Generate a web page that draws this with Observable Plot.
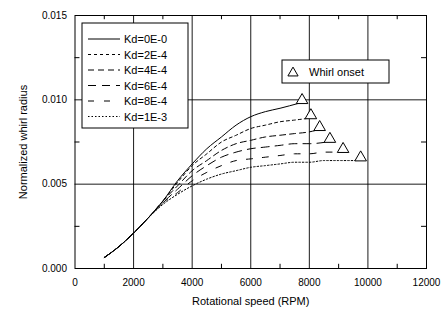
<!DOCTYPE html>
<html><head><meta charset="utf-8">
<script src="https://cdn.jsdelivr.net/npm/d3@7"></script>
<script src="https://cdn.jsdelivr.net/npm/@observablehq/plot@0.6"></script>
<style>body{margin:0;background:#fff;font-family:"Liberation Sans",Arial,sans-serif}</style>
</head><body><div id="chart"></div>
<script>
const seriesNames = ["Kd=0E-0","Kd=2E-4","Kd=4E-4","Kd=6E-4","Kd=8E-4","Kd=1E-3"];
const dashes = ["none","3,3","6,4","8,6","6,10","1.5,2"];
const rpm0 = [1000,1500,2000,2500,3000,3500,4000,4500,5000,5500,6000,6500,7000,7650];
const r0   = [0.00065,0.0013,0.0021,0.0030,0.0040,0.0052,0.0062,0.0071,0.0078,0.0085,0.0090,0.0093,0.0095,0.0098];
const rpm1 = [1000,1500,2000,2500,3000,3500,4000,4500,5000,5500,6000,6500,7000,7500,7950];
const r1   = [0.00065,0.0013,0.0021,0.0030,0.0040,0.0051,0.0061,0.0068,0.0075,0.0079,0.0083,0.0085,0.0087,0.0088,0.0089];
const rpm2 = [1000,1500,2000,2500,3000,3500,4000,4500,5000,5500,6000,6500,7000,7500,8000,8250];
const r2   = [0.00065,0.0013,0.0021,0.0030,0.0040,0.0049,0.0058,0.0064,0.0070,0.0074,0.0076,0.0078,0.0079,0.0080,0.0081,0.0082];
const rpm3 = [1000,1500,2000,2500,3000,3500,4000,4500,5000,5500,6000,6500,7000,7500,8000,8600];
const r3   = [0.00065,0.0013,0.0021,0.0030,0.0039,0.0047,0.0055,0.0061,0.0066,0.0069,0.0071,0.0072,0.0073,0.0074,0.0074,0.0075];
const rpm4 = [1000,1500,2000,2500,3000,3500,4000,4500,5000,5500,6000,6500,7000,7500,8000,8500,9050];
const r4   = [0.00065,0.0013,0.0021,0.0030,0.0039,0.0045,0.0052,0.0057,0.0061,0.0064,0.0065,0.0066,0.0067,0.0068,0.0068,0.0069,0.0069];
const rpm5 = [1000,1500,2000,2500,3000,3500,4000,4500,5000,5500,6000,6500,7000,7500,8000,8500,9000,9650];
const r5   = [0.00065,0.0013,0.0021,0.0030,0.0038,0.0044,0.0049,0.0053,0.0056,0.0058,0.0060,0.0061,0.0062,0.0063,0.0063,0.0064,0.0064,0.0064];
const onsetRpm = [7650,7950,8250,8600,9050,9650];
const onsetR   = [0.0098,0.0089,0.0082,0.0075,0.0069,0.0064];
const xTicks = [0,2000,4000,6000,8000,10000,12000];
const yTicks = [0,0.005,0.010,0.015];
const xGrid = [2000,4000,6000,8000,10000];
const yGrid = [0.005,0.010];
const xMinor = [1000,3000,5000,7000,9000,11000];
const yMinor = [0.0025,0.0075,0.0125];

const allX = [rpm0,rpm1,rpm2,rpm3,rpm4,rpm5];
const allY = [r0,r1,r2,r3,r4,r5];
const lineData = [];
allX.forEach((xs,i)=>xs.forEach((x,j)=>lineData.push({s:seriesNames[i], x, y: allY[i][j], k:i})));
const onset = onsetRpm.map((x,i)=>({x, y: onsetR[i]}));

const lineMarks = seriesNames.map((name,i)=>Plot.line(lineData.filter(d=>d.k===i), {x:"x", y:"y", curve:"monotone-x", stroke:"black", strokeWidth:1, strokeDasharray: dashes[i]}));

const plot = Plot.plot({
  width: 445, height: 312,
  marginLeft: 74.5, marginRight: 19, marginTop: 15, marginBottom: 44,
  style: {fontFamily: '"Liberation Sans", Arial, sans-serif', background: "white"},
  x: {domain: [0,12000]},
  y: {domain: [0,0.015]},
  marks: [
    Plot.ruleX(xGrid, {stroke:"black", strokeWidth:0.9}),
    Plot.ruleY(yGrid, {stroke:"black", strokeWidth:0.9}),
    Plot.ruleX(xMinor, {y1: 0, y2: 0.00025, stroke:"black"}),
    Plot.ruleX(xMinor, {y1: 0.01475, y2: 0.015, stroke:"black"}),
    Plot.ruleY(yMinor, {x1: 0, x2: 170, stroke:"black"}),
    Plot.ruleY(yMinor, {x1: 11830, x2: 12000, stroke:"black"}),
    ...lineMarks,
    Plot.dot(onset, {x:"x", y:"y", symbol:"triangle", r:4.3, stroke:"black", fill:"white", strokeWidth:1, dx:3, dy:-3}),
    Plot.frame({stroke:"black", strokeWidth:1}),
    Plot.axisX({ticks: xTicks, tickSize: 0, tickPadding: 10, fontSize: 10, tickFormat: d3.format("d"), label: "Rotational speed (RPM)", labelAnchor: "center", labelOffset: 36}),
    Plot.axisY({ticks: yTicks, tickSize: 0, tickPadding: 8, fontSize: 10, tickFormat: d3.format(".3f"), label: "Normalized whirl radius", labelAnchor: "center", labelArrow: "none", labelOffset: 56})
  ]
});
document.getElementById("chart").appendChild(plot);

d3.select(plot).selectAll("text").each(function(){
  const t = this.textContent;
  if (t.startsWith("Rotational")) { this.textContent = "Rotational speed (RPM)"; d3.select(this).attr("font-size",11); }
  if (t.includes("Normalized")) { this.textContent = "Normalized whirl radius"; d3.select(this).attr("font-size",11); }
});

const svg = d3.select(plot);
const lg = svg.append("g").attr("font-family",'"Liberation Sans", Arial, sans-serif').attr("font-size",11).attr("text-anchor","start");
lg.append("rect").attr("x",82).attr("y",23).attr("width",106).attr("height",105).attr("fill","white").attr("stroke","black");
seriesNames.forEach((n,i)=>{
  const yy = 39 + i*15.5;
  lg.append("line").attr("x1",88).attr("x2",120).attr("y1",yy).attr("y2",yy).attr("stroke","black").attr("stroke-dasharray", dashes[i]==="none"?null:dashes[i]);
  lg.append("text").attr("x",124).attr("y",yy+4).attr("text-anchor","start").text(n);
});
const og = svg.append("g").attr("font-family",'"Liberation Sans", Arial, sans-serif').attr("font-size",11).attr("text-anchor","start");
og.append("rect").attr("x",282).attr("y",60).attr("width",107).attr("height",23).attr("fill","white").attr("stroke","black");
og.append("path").attr("d", d3.symbol(d3.symbolTriangle, 45)()).attr("transform","translate(293,73)").attr("fill","white").attr("stroke","black");
og.append("text").attr("x",309).attr("y",76).attr("text-anchor","start").text("Whirl onset");
</script>
</body></html>
